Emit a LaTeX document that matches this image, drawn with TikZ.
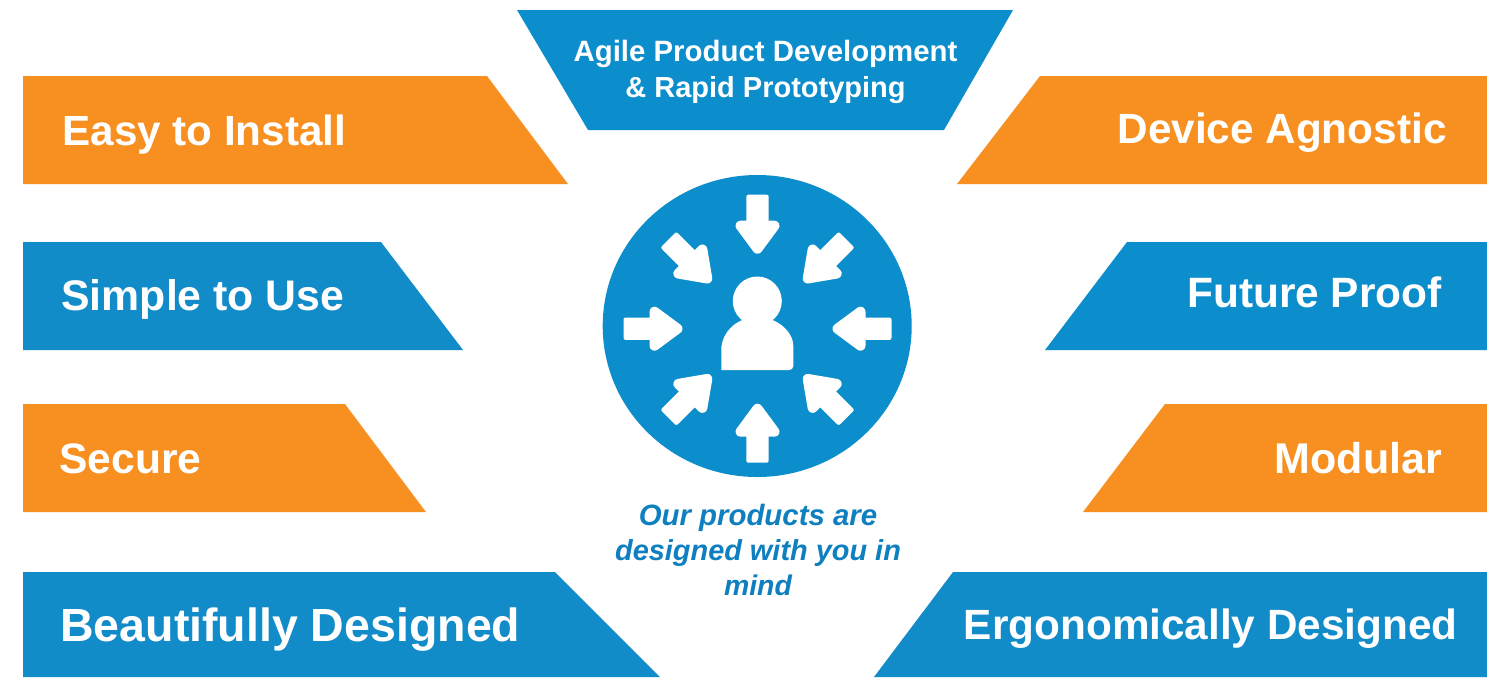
\documentclass[tikz,border=0pt]{standalone}
\usepackage{fontspec}
\setmainfont{Liberation Sans}
\definecolor{cblue}{HTML}{0D8ECC}
\definecolor{cbluel}{HTML}{128BC9}
\definecolor{corange}{HTML}{F79020}
\definecolor{ctext}{HTML}{0E7FBF}
\tikzset{
  lab/.style={text=white,inner sep=0pt,anchor=base},
  itlab/.style={text=ctext,inner sep=0pt,anchor=base},
  pics/inarrow/.style n args={3}{code={
    \fill[white,rounded corners=1pt] (-11.2,#2) -- (11.2,#2) -- (11.2,#3) -- (-11.2,#3) -- cycle;
    \filldraw[white,line width=5pt,line join=round] (-17,#3) -- (17,#3) -- (0,#1) -- cycle;
  }}
}
\newcommand{\bfs}[1]{\fontsize{#1}{#1}\selectfont\bfseries}
\begin{document}
\begin{tikzpicture}[x=0.5pt,y=-0.5pt]
\useasboundingbox (0,0) rectangle (1487,677);
\fill[white] (0,0) rectangle (1487,677);
% banners
\fill[cblue] (517,10) -- (1013,10) -- (944,130) -- (588,130) -- cycle;
\fill[corange] (23,76) -- (487,76) -- (568,184) -- (23,184) -- cycle;
\fill[cbluel] (23,242) -- (381,242) -- (463,350) -- (23,350) -- cycle;
\fill[corange] (23,404) -- (345,404) -- (426,512) -- (23,512) -- cycle;
\fill[cbluel] (23,572) -- (555,572) -- (660,677) -- (23,677) -- cycle;
\fill[corange] (1487,76) -- (1040,76) -- (957,184) -- (1487,184) -- cycle;
\fill[cblue] (1487,242) -- (1127,242) -- (1045,350) -- (1487,350) -- cycle;
\fill[corange] (1487,404) -- (1165,404) -- (1083,512) -- (1487,512) -- cycle;
\fill[cbluel] (1487,572) -- (953,572) -- (874,677) -- (1487,677) -- cycle;
% circle
\fill[cblue] (757.2,326) ellipse [x radius=154.5, y radius=151];
\begin{scope}[shift={(757.5,328.7)}]
\foreach \a in {0,90,180,270}
  \pic[rotate=\a] {inarrow={-80}{-134}{-103}};
\foreach \a in {45,135,225,315}
  \pic[rotate=\a] {inarrow={-71}{-126}{-95}};
\end{scope}
% person
\fill[white] (757.3,301) circle [radius=24.5];
\fill[white,rounded corners=2pt] (721.3,370) -- (793.3,370) -- (793.3,350) -- (793.3,350) [sharp corners] arc[start angle=0,end angle=-180,x radius=36,y radius=33] -- cycle;
% text
\node[lab,font=\bfs{14.7}] at (765.5,61.5) {Agile Product Development};
\node[lab,font=\bfs{14.5}] at (765.5,97.5) {\& Rapid Prototyping};
\node[lab,font=\bfs{21.1},anchor=base west] at (62,145) {Easy to Install};
\node[lab,font=\bfs{21.4},anchor=base west] at (61,310) {Simple to Use};
\node[lab,font=\bfs{21.3},anchor=base west] at (59,473.5) {Secure};
\node[lab,font=\bfs{23.25},anchor=base west] at (60,641) {Beautifully Designed};
\node[lab,font=\bfs{21.15},anchor=base east] at (1447,143) {Device Agnostic};
\node[lab,font=\bfs{21.2},anchor=base east] at (1442,307) {Future Proof};
\node[lab,font=\bfs{21.5},anchor=base east] at (1442.5,473) {Modular};
\node[lab,font=\bfs{21.15},anchor=base east] at (1458,639) {Ergonomically Designed};
\node[itlab,font=\bfs{14.7}\itshape] at (758,525) {Our products are};
\node[itlab,font=\bfs{14.45}\itshape] at (758,560) {designed with you in};
\node[itlab,font=\bfs{14.2}\itshape] at (758,595) {mind};
\end{tikzpicture}
\end{document}
